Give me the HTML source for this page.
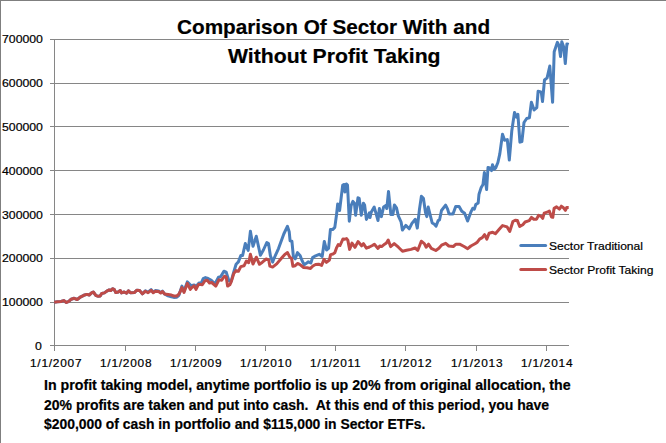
<!DOCTYPE html>
<html><head><meta charset="utf-8">
<style>
html,body{margin:0;padding:0;}
body{width:666px;height:443px;overflow:hidden;background:#fff;position:relative;font-family:"Liberation Sans",sans-serif;color:#000;}
.t{-webkit-text-stroke:0.2px #000;position:absolute;white-space:nowrap;line-height:1;transform-origin:0 0;}
.yl{font-size:11px;transform:scaleX(1.115);}
.xl{font-size:11px;letter-spacing:0.7px;transform:scaleX(1.08);}
.title{font-size:21px;font-weight:bold;}
.leg{font-size:11.5px;}
.para{font-size:14px;font-weight:bold;}
svg{position:absolute;left:0;top:0;}
</style></head><body>
<svg width="666" height="443" viewBox="0 0 666 443">
<rect x="0" y="0" width="666" height="1" fill="#7f7f7f"/>
<rect x="0" y="0" width="1" height="443" fill="#7f7f7f"/>
<g fill="#868686">
<rect x="50" y="39" width="519" height="1"/>
<rect x="50" y="83" width="519" height="1"/>
<rect x="50" y="126" width="519" height="1"/>
<rect x="50" y="170" width="519" height="1"/>
<rect x="50" y="214" width="519" height="1"/>
<rect x="50" y="258" width="519" height="1"/>
<rect x="50" y="302" width="519" height="1"/>
<rect x="50" y="345" width="519" height="1"/>
<rect x="54" y="39" width="1" height="312"/>
<rect x="125" y="345" width="1" height="6"/>
<rect x="195" y="345" width="1" height="6"/>
<rect x="265" y="345" width="1" height="6"/>
<rect x="335" y="345" width="1" height="6"/>
<rect x="405" y="345" width="1" height="6"/>
<rect x="476" y="345" width="1" height="6"/>
<rect x="546" y="345" width="1" height="6"/>
</g>
<g fill="none" stroke-width="3" stroke-linecap="round" stroke-linejoin="round">
<path id="blue" stroke-linecap="butt" stroke="#4a7ebb" d="M54.2,302.2 L57.4,301.8 L61,301.5 L63.7,300.6 L66.4,302.5 L68.8,301.3 L71.2,299.2 L74.2,298.3 L77.2,299.5 L80.8,296.8 L83.8,295.3 L86.8,294.4 L89.2,295 L91.6,292.9 L93.3,292 L96,295.6 L97.8,296.2 L100.2,295.9 L101.7,293.5 L104.4,292.9 L106.8,291.1 L109.2,289.9 L110.7,290.5 L112.8,288.7 L114.3,289.6 L115.8,292.6 L118.2,292 L120.3,290.5 L121.5,292.9 L124.2,292 L126.6,293.2 L128.4,290.8 L130.4,292.7 L134.6,292.4 L136.7,290.3 L139.7,290.6 L142.4,293.9 L145.4,290.7 L148.1,292.2 L151.1,289.6 L153.2,292.2 L155.3,290.6 L158.6,290.9 L160.7,292.6 L162.5,291.2 L164.6,294 L168,295.8 L171.4,296.8 L173.8,297.4 L176.8,297.2 L178.9,295.3 L181.9,286.1 L184,291 L187.3,281.9 L191.2,285.8 L194.2,284.9 L196,286.4 L199,283.1 L201.4,282.8 L203.2,278.6 L205.4,277.6 L208.1,278.5 L211.3,280.3 L214.9,283.9 L218.5,277.1 L220.8,276.6 L223.9,271.2 L226.2,272.1 L228.9,280.7 L231.2,281.2 L233.7,272.1 L236.1,264.2 L238.4,261.9 L240.8,255.5 L242.6,255.5 L245.3,243.5 L248.2,250.4 L250.4,231.3 L253,246.3 L256.3,236.2 L260.4,255.3 L263.4,250 L266.8,242.5 L268.5,243.5 L270.4,255.8 L272.6,262.1 L274,258.5 L278.5,248.6 L283.8,234 L287.4,226.3 L289.2,231.7 L290.1,240.8 L291.9,241.2 L293.4,256.7 L295.2,258.9 L297.5,252.6 L300.2,255.8 L301.8,260 L304.2,264.8 L306,263.6 L308.4,261.8 L310.8,263 L312.6,257.6 L315.6,255.8 L319.2,254.3 L322.2,256.4 L324.3,241.4 L326.5,250 L328.6,248.3 L330.4,229.6 L332.6,229.6 L334.8,227.4 L336.5,215 L337.7,204 L339.6,210.5 L342.7,185.1 L344.2,184.5 L345,192 L346.5,184 L347.5,185 L349.3,221.2 L351.1,205.6 L352.9,201.4 L354.4,203.2 L355.6,215.2 L358,197.8 L359.2,198.4 L361.3,215.2 L363.4,203.2 L364.6,205 L366.4,219.4 L369.4,212.8 L370,217.6 L371.2,212.2 L374.2,207.1 L376,213.4 L378,220.5 L379.4,208.5 L381.4,216.6 L383.6,207 L385.5,205.7 L386.8,208.5 L388.5,191.5 L390.9,214.6 L392.9,214.6 L394.4,205 L396.5,207.8 L398.3,215.8 L401.1,222 L402.4,230.1 L405.8,225.4 L409.2,228.8 L411.9,223.4 L415.3,219.3 L417.3,228.1 L419.4,209.8 L421.4,196.3 L423.4,198.3 L425.5,212.5 L426.8,216.6 L428.2,207.1 L430.2,215.2 L432.2,223 L434.1,224 L436.1,226.1 L438.1,220.7 L439.5,220 L441.5,210.5 L445.6,205.1 L447.6,209.1 L449,213.9 L453,213.9 L455.7,206.4 L459.1,206.4 L461.8,211.2 L464.6,213.2 L467.6,221 L471.1,211.6 L472.7,208.4 L474.3,209.2 L475.8,204.5 L478.2,202.9 L479,194.2 L481.2,187.5 L483,184.5 L484.4,172.5 L486.6,189.6 L488,167.5 L489.8,167.9 L491.6,170.6 L492.5,164.8 L494.3,169.3 L495.7,167.9 L497.9,162.5 L499.8,153.9 L502.5,134.2 L504.6,140.3 L507.3,139.6 L509.3,160 L511.8,130.7 L514.5,112.4 L516.5,117.1 L517.9,114.4 L519.9,142.2 L521.9,141.5 L524,122.5 L526.7,118.5 L529.4,117.8 L531.4,102.2 L534.1,110 L536.8,107.6 L538.1,91.3 L539.9,91.7 L541.3,92.2 L542.5,101.5 L544.5,80 L547.1,77.9 L549.8,66 L552.6,102.3 L554.2,51.8 L557.4,42.3 L559,45.5 L560.5,56.5 L561.8,41.7 L563.7,47.1 L565.3,63.6 L566.9,43.9 L568.7,44.5"/>
<path id="red" stroke-linecap="butt" stroke="#be4b48" d="M54.2,302.2 L57.4,301.8 L61,301.5 L63.7,300.6 L66.4,302.5 L68.8,301.3 L71.2,299.2 L74.2,298.3 L77.2,299.5 L80.8,296.8 L83.8,295.3 L86.8,294.4 L89.2,295 L91.6,292.9 L93.3,292 L96,295.6 L97.8,296.2 L100.2,295.9 L101.7,293.5 L104.4,292.9 L106.8,291.1 L109.2,289.9 L110.7,290.5 L112.8,288.7 L114.3,289.6 L115.8,292.6 L118.2,292 L120.3,290.5 L121.5,292.9 L124.2,292 L126.6,293.2 L128.4,290.8 L130.4,292.7 L134.6,292.4 L136.7,290.3 L139.7,290.6 L142.4,293.9 L145.4,291.2 L148.1,292.7 L151.1,290.3 L153.2,292.7 L155.3,291.2 L158.6,291.5 L160.7,293 L162.5,291.5 L164.6,293.9 L168,294.5 L171.4,295.1 L173.8,296 L176.8,296 L178.9,294.2 L180.7,290.6 L181.9,287.6 L184,292.4 L187.3,283.4 L190.3,289.4 L191.8,287.6 L194.2,285.8 L196,289.4 L198.4,284.6 L200.8,284.5 L202.3,284.8 L205,280.7 L207.2,280.3 L209.5,283 L211.7,282.5 L215.8,286.1 L219,279.8 L221.7,280.3 L224.4,276.2 L226.2,277.1 L227.6,286.1 L229.8,284.8 L231.3,281.6 L233.7,273.7 L236.1,270.6 L238.4,271.3 L240.8,266.6 L244,265.8 L246.3,261.1 L248.7,262.7 L250.4,254.3 L253,264 L256.3,257.2 L259.5,264.3 L262.4,262.2 L266.2,259 L268.6,259.8 L269.9,266.2 L272.6,267.1 L276.7,263.9 L281.2,258.5 L284.8,254.4 L287.5,252.6 L289.8,257.1 L291.6,258.5 L292.9,266.2 L295.2,265.7 L297.5,263.5 L299.7,264.4 L303.6,267.5 L307.2,267.8 L310.5,268.4 L312.9,266 L315.6,264.5 L318.6,264.2 L321.6,265.4 L324,259.4 L326.4,262.4 L329.4,260 L330.6,254.6 L333,254 L334.8,252.8 L336.4,248.2 L338.2,244.6 L340,245.5 L343,238.9 L344.8,239.2 L346.6,238.6 L347.8,240.1 L349.6,249.4 L352,243.1 L355,247.3 L358,241.6 L361.6,245.8 L363.4,243.7 L366.4,248.2 L369.4,247 L372.4,245.5 L374.4,244.2 L378,248.4 L379.8,246 L381.6,246.6 L384.6,244.2 L386.4,243 L388.2,240 L390.6,246.6 L394.2,243.6 L398.4,247.2 L402.5,251.2 L406.5,250.3 L411,249.4 L415.1,248 L417.8,250.3 L421.3,241.2 L424.3,243.6 L426.1,247.2 L428.5,244.2 L431.3,248.3 L435.8,250.5 L438.9,248.3 L441.6,245.1 L445.7,243.3 L448.8,246 L453.3,246.5 L456,244.2 L459.6,244.2 L464.1,246.5 L467.7,248.7 L470.9,246 L475,243.8 L477.3,242.2 L479.6,239.1 L482.3,237.7 L484.6,234.6 L486.8,239.1 L489.1,233.2 L492.7,232.3 L495.4,233.7 L499,229.6 L502.6,225.6 L507.1,226.9 L509.8,231.4 L512.9,221.5 L515.2,220.2 L517.4,220.6 L519.7,226.5 L522.8,224.7 L525.1,222 L529.2,220.6 L531.5,217.4 L533.8,219.2 L536.6,219.2 L538.5,215.4 L541.1,216.4 L542.7,218.3 L544.2,213.2 L547.1,212.2 L549.3,211 L551.5,217 L552.8,217.3 L554.1,208.4 L556.6,206.9 L559.4,209.1 L561.3,206.2 L563.5,207.8 L565.4,210.3 L566.7,207.5 L568.7,207.5"/>
<line x1="520.8" y1="245.4" x2="545.6" y2="245.4" stroke="#4a7ebb"/>
<line x1="520.8" y1="269.4" x2="545.6" y2="269.4" stroke="#be4b48"/>
</g>
</svg>
<div class="t yl" id="y7" style="left:1.5px;top:34px">700000</div>
<div class="t yl" id="y6" style="left:1.5px;top:78px">600000</div>
<div class="t yl" id="y5" style="left:1.5px;top:122px">500000</div>
<div class="t yl" id="y4" style="left:1.5px;top:166px">400000</div>
<div class="t yl" id="y3" style="left:1.5px;top:210px">300000</div>
<div class="t yl" id="y2" style="left:1.5px;top:253px">200000</div>
<div class="t yl" id="y1" style="left:1.5px;top:297px">100000</div>
<div class="t yl" id="y0" style="left:35px;top:341px">0</div>
<div class="t xl" id="x0" style="left:29.5px;top:358px">1/1/2007</div>
<div class="t xl" id="x1" style="left:99.7px;top:358px">1/1/2008</div>
<div class="t xl" id="x2" style="left:169.8px;top:358px">1/1/2009</div>
<div class="t xl" id="x3" style="left:240px;top:358px">1/1/2010</div>
<div class="t xl" id="x4" style="left:310.2px;top:358px">1/1/2011</div>
<div class="t xl" id="x5" style="left:380.4px;top:358px">1/1/2012</div>
<div class="t xl" id="x6" style="left:450.6px;top:358px">1/1/2013</div>
<div class="t xl" id="x7" style="left:520.8px;top:358px">1/1/2014</div>
<div class="t title" id="t1" style="left:177.3px;top:15.5px;transform:scaleX(0.987)">Comparison Of Sector With and</div>
<div class="t title" id="t2" style="left:228px;top:45px;transform:scaleX(1.0096)">Without Profit Taking</div>
<div class="t leg" id="l1" style="left:549px;top:241px;transform:scaleX(1.05)">Sector Traditional</div>
<div class="t leg" id="l2" style="left:549px;top:265px;transform:scaleX(1.05)">Sector Profit Taking</div>
<div class="t para" id="p1" style="left:44px;top:378px;transform:scaleX(1.0135)">In profit taking model, anytime portfolio is up 20% from original allocation, the</div>
<div class="t para" id="p2" style="left:44px;top:398px">20% profits are taken and put into cash.&nbsp; At this end of this period, you have</div>
<div class="t para" id="p3" style="left:44px;top:417px;transform:scaleX(0.992)">$200,000 of cash in portfolio and $115,000 in Sector ETFs.</div>
</body></html>
